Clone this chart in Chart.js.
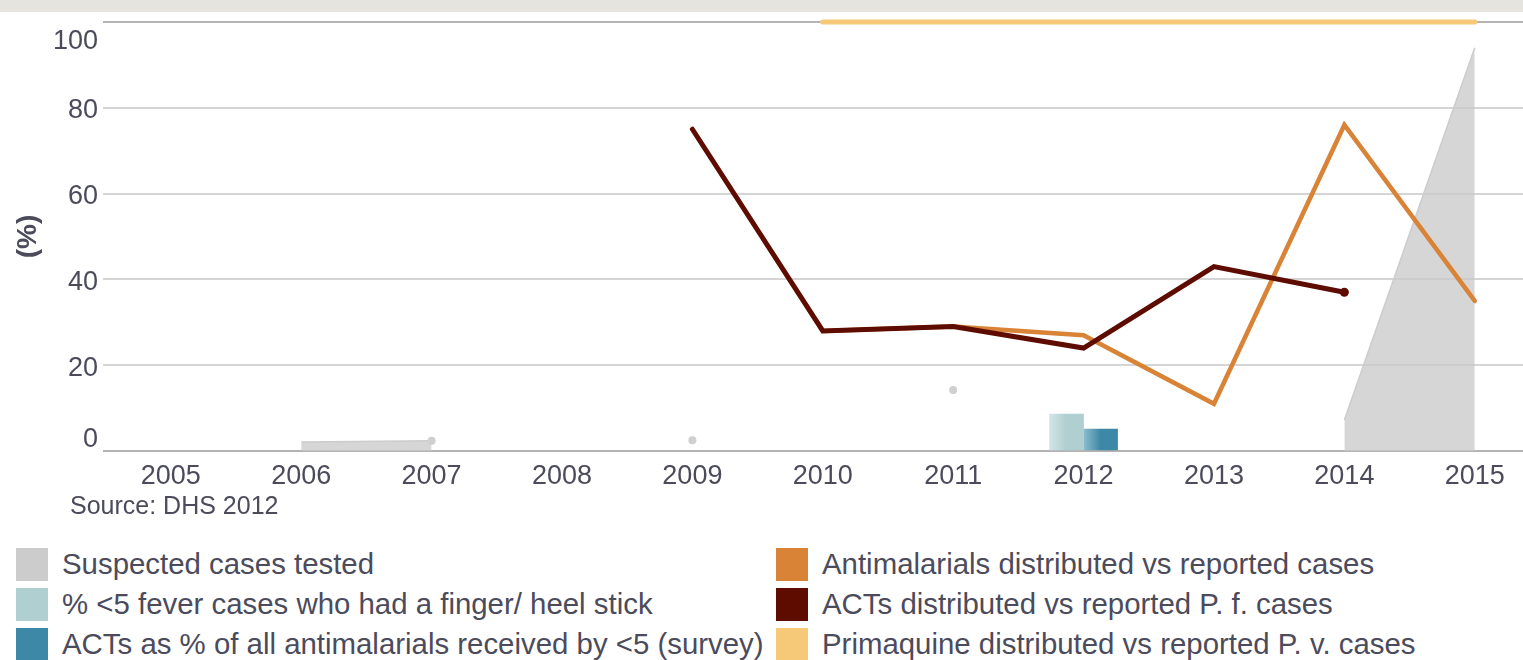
<!DOCTYPE html>
<html lang="en">
<head>
<meta charset="UTF-8">
<title>Malaria case management indicators</title>
<style>
    body {
        margin: 0;
        width: 1523px;
        height: 660px;
        background: #fff;
        position: relative;
        overflow: hidden;
        font-family: "Liberation Sans", Arial, sans-serif;
        color: #4b4b5c;
    }
    .top-band { position: absolute; left: 0; top: 0; width: 1523px; height: 12px; background: #e5e4df; }
    .chart-box { position: absolute; left: 0; top: 0; width: 1523px; height: 520px; }
    .source { position: absolute; left: 70px; top: 491px; font-size: 25px; line-height: 28px; }
    .legend-item { position: absolute; height: 33px; white-space: nowrap; }
    .legend-box { position: absolute; left: 0; top: 0; width: 32px; height: 33px; }
    .legend-text { position: absolute; left: 46px; top: -1px; font-size: 29.4px; line-height: 33px; }
</style>
</head>
<body>
    <div class="top-band"></div>
    <div class="chart-box">
        <canvas id="mainChart" width="1523" height="520"></canvas>
    </div>
    <div class="source">Source: DHS 2012</div>
    <div id="legend"></div>

<script src="https://cdn.jsdelivr.net/npm/chart.js"></script>
<script>
    // data
    const years = [2005, 2006, 2007, 2008, 2009, 2010, 2011, 2012, 2013, 2014, 2015];
    const yTicks = [0, 20, 40, 60, 80, 100];

    const suspectedTested = [null, 2.1, 2.4, null, 2.5, null, 14.2, null, null, 7.2, 94];
    const antimalarialsDistributed = [null, null, null, null, null, 28, 29, 27, 11, 76, 35];
    const actsDistributedPf = [null, null, null, null, 75, 28, 29, 24, 43, 37, null];
    const primaquineDistributedPv = [null, null, null, null, null, 100, 100, 100, 100, 100, 100];

    const surveyYears = [2012];
    const fingerStickPct = [8.6];
    const actsSurveyPct = [5.1];

    const legendLabels = [
        'Suspected cases tested',
        '% <5 fever cases who had a finger/ heel stick',
        'ACTs as % of all antimalarials received by <5 (survey)',
        'Antimalarials distributed vs reported cases',
        'ACTs distributed vs reported P. f. cases',
        'Primaquine distributed vs reported P. v. cases'
    ];
    const legendColors = ['#cccccc', '#afcfd1', '#3d88a6', '#d98337', '#5e0c00', '#f5c978'];

    const textColor = '#4b4b5c';
    const fontFamily = '"Liberation Sans", Arial, sans-serif';
    const barWidth = 34;

    function points(values, xs) {
        xs = xs || years;
        return xs.map((x, i) => ({ x: x, y: values[i] }));
    }

    // gradient fill for the survey bars, light on the left
    function barGradient(from, to, side) {
        return function (ctx) {
            let chart = ctx.chart;
            if (!chart.chartArea) return to;
            let cx = chart.scales.x.getPixelForValue(surveyYears[ctx.dataIndex]);
            let x0 = side < 0 ? cx - barWidth : cx;
            let g = chart.ctx.createLinearGradient(x0, 0, x0 + barWidth, 0);
            g.addColorStop(0, from);
            g.addColorStop(0.5, to);
            g.addColorStop(1, to);
            return g;
        };
    }

    const yLabelPlugin = {
        id: 'yLabels',
        afterDraw(chart) {
            let ctx = chart.ctx;
            let area = chart.chartArea;
            let y = chart.scales.y;
            ctx.save();
            ctx.fillStyle = textColor;
            ctx.font = '27px ' + fontFamily;
            ctx.textAlign = 'right';
            ctx.textBaseline = 'middle';
            yTicks.forEach(v => {
                let py = y.getPixelForValue(v) + 3;
                py = Math.min(Math.max(py, area.top + 20), area.bottom - 11);
                ctx.fillText(String(v), area.left - 5, py);
            });
            ctx.translate(28, (area.top + area.bottom) / 2);
            ctx.rotate(-Math.PI / 2);
            ctx.font = 'bold 28px ' + fontFamily;
            ctx.textAlign = 'center';
            ctx.fillText('(%)', 0, 0);
            ctx.restore();
        }
    };

    new Chart(document.getElementById('mainChart'), {
        type: 'line',
        data: {
            datasets: [{
                label: legendLabels[4],
                data: points(actsDistributedPf),
                borderColor: legendColors[4],
                backgroundColor: legendColors[4],
                borderWidth: 5,
                borderCapStyle: 'round',
                pointRadius: ctx => ctx.dataIndex === 9 ? 4.5 : 0,
                pointBorderWidth: 0,
                spanGaps: false,
                order: 0
            }, {
                label: legendLabels[3],
                data: points(antimalarialsDistributed),
                borderColor: legendColors[3],
                backgroundColor: legendColors[3],
                borderWidth: 4.5,
                borderCapStyle: 'round',
                pointRadius: 0,
                order: 1
            }, {
                label: legendLabels[5],
                data: points(primaquineDistributedPv),
                borderColor: legendColors[5],
                backgroundColor: legendColors[5],
                borderWidth: 5,
                borderCapStyle: 'round',
                pointRadius: 0,
                clip: false,
                order: 2
            }, {
                label: legendLabels[0],
                data: points(suspectedTested),
                borderColor: '#cccccc',
                borderWidth: 1.5,
                backgroundColor: 'rgba(200, 200, 200, 0.75)',
                fill: 'origin',
                // dot where a run of values stops before a gap
                pointRadius: ctx => {
                    let i = ctx.dataIndex;
                    let next = suspectedTested[i + 1];
                    return suspectedTested[i] != null && i + 1 < suspectedTested.length && next == null ? 4 : 0;
                },
                pointBackgroundColor: '#cfcfcf',
                pointBorderWidth: 0,
                spanGaps: false,
                order: 3
            }, {
                type: 'bar',
                label: legendLabels[1],
                data: points(fingerStickPct, surveyYears),
                backgroundColor: barGradient('#d3e4e5', '#afcfd1', -1),
                barThickness: barWidth,
                order: 4
            }, {
                type: 'bar',
                label: legendLabels[2],
                data: points(actsSurveyPct, surveyYears),
                backgroundColor: barGradient('#8dbccd', '#3d88a6', 1),
                barThickness: barWidth,
                order: 5
            }]
        },
        options: {
            responsive: false,
            animation: false,
            events: [],
            layout: { padding: { top: 22, right: 0, bottom: 24, left: 0 } },
            plugins: {
                legend: { display: false },
                tooltip: { enabled: false }
            },
            scales: {
                x: {
                    type: 'linear',
                    offset: false,
                    min: 2004.48,
                    max: 2015.37,
                    afterBuildTicks: s => { s.ticks = years.map(v => ({ value: v })); },
                    afterFit: s => { s.height = 45; },
                    grid: { display: false, drawTicks: false, offset: false },
                    border: { display: false },
                    ticks: {
                        autoSkip: false,
                        maxRotation: 0,
                        padding: 9,
                        color: textColor,
                        font: { family: fontFamily, size: 27 },
                        callback: v => String(v)
                    }
                },
                y: {
                    min: 0,
                    max: 100,
                    afterBuildTicks: s => { s.ticks = yTicks.map(v => ({ value: v })); },
                    afterFit: s => { s.width = 103; },
                    border: { display: false },
                    grid: {
                        drawTicks: false,
                        lineWidth: 2,
                        color: ctx => (ctx.tick.value === 0 || ctx.tick.value === 100) ? '#b3b3b3' : '#d5d5d5'
                    },
                    ticks: { display: false }
                }
            }
        },
        plugins: [yLabelPlugin]
    });

    // legend: two columns of three
    let legend = document.getElementById('legend');
    legendLabels.forEach((text, i) => {
        let item = document.createElement('div');
        item.className = 'legend-item';
        item.style.left = (i < 3 ? 16 : 776) + 'px';
        item.style.top = (548 + (i % 3) * 40) + 'px';
        let box = document.createElement('span');
        box.className = 'legend-box';
        box.style.background = legendColors[i];
        let label = document.createElement('span');
        label.className = 'legend-text';
        label.textContent = text;
        item.appendChild(box);
        item.appendChild(label);
        legend.appendChild(item);
    });
</script>
</body>
</html>
